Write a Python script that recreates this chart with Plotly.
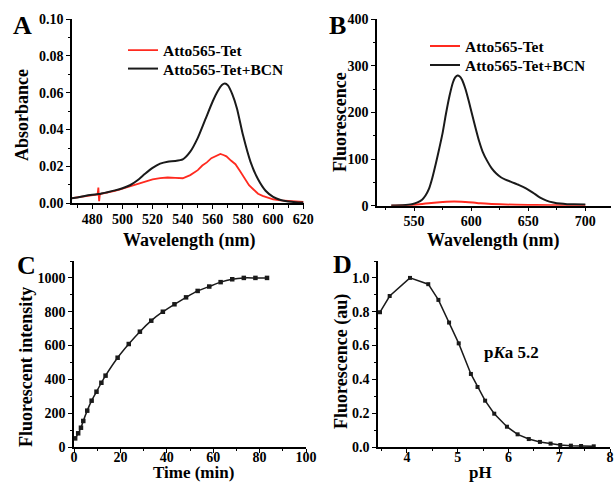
import plotly.graph_objects as go

# ---------- Panel A: absorbance ----------
abs_wl_bcn = [466, 470, 475, 480, 484, 485, 486, 490, 495, 500, 505, 510, 515, 520, 525, 530, 535, 540,
              545, 550, 555, 560, 563, 566, 568, 570, 573, 576, 580, 585, 590, 595, 600, 605, 610, 615, 620]
abs_bcn = [0.0027, 0.0032, 0.0040, 0.0046, 0.0050, 0.0051, 0.0053, 0.0060, 0.0070, 0.0082, 0.0098,
           0.0125, 0.0160, 0.0192, 0.0215, 0.0226, 0.0229, 0.0238, 0.0280, 0.0355, 0.0455, 0.0555,
           0.0605, 0.0642, 0.0650, 0.0640, 0.0590, 0.0515, 0.0370, 0.0225, 0.0130, 0.0068, 0.0035,
           0.0018, 0.0010, 0.0006, 0.0004]
abs_wl_tet = [466, 470, 475, 480, 483.5, 484, 484.5, 485, 490, 495, 500, 505, 510, 515, 520, 525, 530,
              535, 540, 545, 550, 553, 556, 559, 562, 565, 567, 569, 572, 575, 578, 581, 584, 587, 590,
              593, 596, 600, 605, 610, 615, 620]
abs_tet = [0.0027, 0.0031, 0.0038, 0.0045, 0.0048, 0.0085, 0.0012, 0.0050, 0.0058, 0.0068, 0.0080,
           0.0093, 0.0108, 0.0120, 0.0130, 0.0137, 0.0140, 0.0138, 0.0136, 0.0153, 0.0180, 0.0205,
           0.0222, 0.0245, 0.0258, 0.0268, 0.0262, 0.0255, 0.0232, 0.0212, 0.0175, 0.0140, 0.0098,
           0.0075, 0.0052, 0.0040, 0.0032, 0.0022, 0.0016, 0.0012, 0.0009, 0.0007]

# ---------- Panel B: fluorescence spectra ----------
fl_wl_bcn = [530, 540, 548, 553, 557, 560, 563, 566, 569, 572, 575, 578, 581, 584, 586, 588, 590, 592,
             595, 598, 601, 604, 607, 610, 614, 618, 622, 626, 630, 636, 642, 648, 654, 660, 666, 672,
             678, 684, 690, 700]
fl_bcn = [0.5, 1, 3, 7, 13, 22, 36, 60, 90, 122, 156, 198, 235, 264, 275, 279, 277, 270, 250, 223, 194,
          165, 138, 116, 96, 80, 69, 61, 56, 50, 44, 37, 28, 18, 11, 7, 4.5, 3.3, 3, 2.5]
fl_wl_tet = [530, 545, 555, 565, 575, 585, 595, 605, 615, 630, 650, 670, 700]
fl_tet = [0, 1, 3, 6, 8, 9, 8, 6, 4, 2.5, 1.5, 1, 0.8]

# ---------- Panel C: kinetics ----------
time_min = [0.5, 1.8, 3, 4, 5.7, 7.6, 9.7, 11.8, 13.6, 18.8, 23.6, 28.4, 33.3, 38.3, 43.3, 48.3, 53.3,
            58.3, 63.2, 68.2, 73.2, 78.2, 83.2]
intensity = [51, 81, 114, 154, 215, 274, 327, 380, 422, 528, 609, 682, 747, 800, 844, 885, 923, 949,
             975, 992, 1000, 1000, 1000]

# ---------- Panel D: pH dependence ----------
ph = [3.47, 3.66, 4.06, 4.42, 4.62, 4.83, 5.02, 5.26, 5.39, 5.54, 5.72, 5.97, 6.18, 6.40, 6.62, 6.83,
      7.02, 7.23, 7.43, 7.68]
fluor_au = [0.797, 0.893, 1.0, 0.963, 0.870, 0.736, 0.613, 0.432, 0.355, 0.274, 0.197, 0.120, 0.075,
            0.047, 0.030, 0.020, 0.012, 0.008, 0.006, 0.004]

legend_names = ["Atto565-Tet", "Atto565-Tet+BCN"]
RED = "#ff2a1f"
BLACK = "#1a1a1a"
FONT = "Liberation Serif"

fig = go.Figure()
fig.add_trace(go.Scatter(x=abs_wl_tet, y=abs_tet, mode="lines", name=legend_names[0],
                         line=dict(color=RED, width=1.8), xaxis="x", yaxis="y", legend="legend"))
fig.add_trace(go.Scatter(x=abs_wl_bcn, y=abs_bcn, mode="lines", name=legend_names[1],
                         line=dict(color=BLACK, width=2, shape="spline", smoothing=0.6),
                         xaxis="x", yaxis="y", legend="legend3"))
fig.add_trace(go.Scatter(x=fl_wl_tet, y=fl_tet, mode="lines", name=legend_names[0],
                         line=dict(color=RED, width=2, shape="spline"), xaxis="x2", yaxis="y2",
                         legend="legend2"))
fig.add_trace(go.Scatter(x=fl_wl_bcn, y=fl_bcn, mode="lines", name=legend_names[1],
                         line=dict(color=BLACK, width=2, shape="spline", smoothing=0.6),
                         xaxis="x2", yaxis="y2", legend="legend4"))
fig.add_trace(go.Scatter(x=time_min, y=intensity, mode="lines+markers", showlegend=False,
                         line=dict(color=BLACK, width=1.5, shape="spline", smoothing=0.5),
                         marker=dict(symbol="square", size=4.5, color=BLACK),
                         xaxis="x3", yaxis="y3"))
fig.add_trace(go.Scatter(x=ph, y=fluor_au, mode="lines+markers", showlegend=False,
                         line=dict(color=BLACK, width=1.5),
                         marker=dict(symbol="square", size=4, color=BLACK),
                         xaxis="x4", yaxis="y4"))

W, H = 614, 483
def px_x(a, b):
    return [a / W, b / W]
def px_y(top, bottom):
    return [1 - bottom / H, 1 - top / H]

tickfont = dict(family=FONT, size=14, color="black", weight="bold")
titlefont = dict(family=FONT, size=18, color="black", weight="bold")

def axis(domain, anchor, rng, dtick, minor_dtick, tick0=None, fmt=None, standoff=0):
    d = dict(domain=domain, anchor=anchor, range=rng, dtick=dtick, showgrid=False, zeroline=False,
             automargin=False, ticklabelstandoff=standoff,
             showline=True, linecolor="black", linewidth=1.5, ticks="outside", ticklen=4,
             tickwidth=1.3, tickcolor="black", tickfont=tickfont,
             minor=dict(dtick=minor_dtick, ticks="outside", ticklen=2.5, tickwidth=1.2,
                        tickcolor="black", showgrid=False))
    if tick0 is not None:
        d["tick0"] = tick0
        d["minor"]["tick0"] = tick0
    if fmt is not None:
        d["tickformat"] = fmt
    return d

def legend_at(x_px, top_px):
    return dict(x=x_px / W, y=1 - top_px / H, xanchor="left", yanchor="top",
                bgcolor="rgba(0,0,0,0)", itemwidth=30,
                font=dict(family=FONT, size=15.5, color="black", weight="bold"))

fig.update_layout(
    width=W, height=H, margin=dict(l=0, r=0, t=0, b=0),
    paper_bgcolor="white", plot_bgcolor="white",
    font=dict(family=FONT, color="black", weight="bold"),
    xaxis=axis(px_x(72, 304), "y", [466.5, 620.5], 20, 10, tick0=480, standoff=-2),
    yaxis=axis(px_y(19, 203.3), "x", [0, 0.1], 0.02, 0.01, tick0=0, fmt=".2f"),
    xaxis2=axis(px_x(377, 611), "y2", [517.5, 722.5], 50, 25, tick0=550, standoff=-2),
    yaxis2=axis(px_y(19, 205.7), "x2", [0, 400], 100, 50, tick0=0),
    xaxis3=axis(px_x(74, 306), "y3", [0, 100], 20, 10, tick0=0, standoff=-8),
    yaxis3=axis(px_y(261, 447), "x3", [0, 1100], 200, 100, tick0=0),
    xaxis4=axis(px_x(378, 610), "y4", [3.43, 8.0], 1, 0.5, tick0=4, standoff=-8),
    yaxis4=axis(px_y(261, 447), "x4", [0, 1.1], 0.2, 0.1, tick0=0, fmt=".1f"),
    legend=legend_at(123, 33.5),
    legend3=legend_at(123, 52),
    legend2=legend_at(425, 29.5),
    legend4=legend_at(425, 48.5),
)

# axis titles
small_title = dict(titlefont, size=17)
for txt, x, y, ang, f in [("Absorbance", 22, 115, -90, titlefont),
                          ("Wavelength (nm)", 189, 240, 0, titlefont),
                          ("Fluorescence", 340, 122, -90, titlefont),
                          ("Wavelength (nm)", 493, 240, 0, titlefont),
                          ("Fluorescent intensity", 26, 367, -90, titlefont),
                          ("Time (min)", 194, 472, 0, small_title),
                          ("Fluorescence (au)", 341, 362, -90, titlefont),
                          ("pH", 480, 472, 0, small_title)]:
    fig.add_annotation(text=txt, x=x / W, y=1 - y / H, xref="paper", yref="paper", textangle=ang,
                       showarrow=False, font=f, xanchor="center", yanchor="middle")

letter_font = dict(family=FONT, size=26, color="black", weight="bold")
for txt, x, y in [("A", 22, 26), ("B", 337, 26), ("C", 26, 265), ("D", 342, 264)]:
    fig.add_annotation(text=txt, x=x / W, y=1 - y / H, xref="paper", yref="paper",
                       showarrow=False, font=letter_font, xanchor="center", yanchor="middle")

fig.add_annotation(text="p<i>K</i>a 5.2", x=6.06, y=0.557, xref="x4", yref="y4", showarrow=False,
                   font=dict(family=FONT, size=17, color="black", weight="bold"))

fig.write_html("out.html", config={"displayModeBar": False},
               post_script="document.body.style.margin='0';document.body.style.overflow='hidden';")
